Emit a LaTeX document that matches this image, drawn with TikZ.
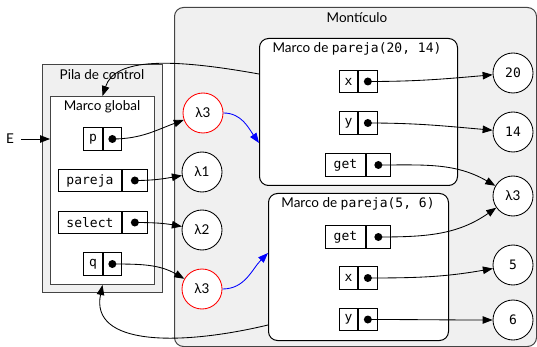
\documentclass[tikz,border=0pt]{standalone}
\usepackage{fontspec}
\setmainfont{Lato}
\newfontfamily\monof{DejaVu Sans Mono}
\usetikzlibrary{arrows.meta}
\definecolor{bgfill}{HTML}{F0F0F0}
\definecolor{framec}{HTML}{444444}
\tikzset{
  arr/.style={-{Triangle[length=10pt,width=7.5pt]}, line width=0.85pt},
  barr/.style={arr, blue},
  lbl/.style={font=\fontsize{13.5}{16}\selectfont, inner sep=0},
  cellL/.style={draw, line width=0.9pt, minimum height=22.5pt, inner sep=0, font=\monof\fontsize{13}{15}\selectfont},
  cellD/.style={draw, line width=0.9pt, minimum height=22.5pt, inner sep=0},
  val/.style={draw, circle, minimum size=40pt, inner sep=0, line width=0.85pt, fill=white, font=\monof\fontsize{13}{15}\selectfont},
  lam/.style={draw, circle, minimum size=40pt, inner sep=0, line width=0.85pt, fill=white, font=\fontsize{13.5}{16}\selectfont},
  redlam/.style={lam, draw=red},
  pt/.style={circle, fill=black, inner sep=0, minimum size=8pt},
  panel/.style={draw=framec, line width=1pt},
}
\newcommand{\mkcell}[6]{% name, label, xL, wL, wD, y
  \node[cellL, minimum width=#4 pt, anchor=west] (#1L) at (#3,#6) {#2};
  \node[cellD, minimum width=#5 pt, anchor=west] (#1D) at (#1L.east) {};
  \node[pt] (#1) at (#1D.center) {};
}
\begin{document}
\begin{tikzpicture}[x=1pt,y=-1pt]
\useasboundingbox (0,0) rectangle (537,347);
% Monticulo
\node[panel, draw=framec, fill=bgfill, rounded corners=9pt, minimum width=362pt, minimum height=339pt, anchor=north west, inner sep=0] (heap) at (174,7) {};
\node[lbl] (heapT) at (357,18) {Montículo};
% Pila de control
\node[panel, fill=bgfill, minimum width=120pt, minimum height=228pt, anchor=north west, inner sep=0] (stack) at (42,64) {};
\node[lbl] (stackT) at (102,75) {Pila de control};
\node[panel, fill=white, minimum width=104pt, minimum height=188pt, anchor=north west, inner sep=0] (glob) at (50,96) {};
\node[lbl] (globT) at (102,107) {Marco global};
% global cells
\mkcell{gp}{p}{83}{19}{18}{139}
\mkcell{gpar}{pareja}{58}{63}{25}{180.5}
\mkcell{gsel}{select}{58}{63}{25}{222.5}
\mkcell{gq}{q}{83}{19}{18}{264}
% E
\node[lbl] (E) at (10,139) {E};
\coordinate (Ein) at (50,139);
\draw[arr] (E.east)++(7,0) coordinate (Es) (Es) -- (Ein);
% lambdas
\node[redlam] (l3a) at (203,113) {λ3};
\node[lam] (l1) at (202,172) {λ1};
\node[lam] (l2) at (202,230) {λ2};
\node[redlam] (l3b) at (202,289) {λ3};
% frame pareja(20,14)
\node[panel, draw=black, fill=white, rounded corners=9pt, minimum width=198pt, minimum height=147pt, anchor=north west, inner sep=0] (f1) at (259,38) {};
\node[lbl] (f1T) at (357,49) {Marco de {\monof\fontsize{13}{15}\selectfont pareja(20, 14)}};
\mkcell{fx}{x}{339}{18}{19}{81.5}
\mkcell{fy}{y}{339}{18}{19}{123}
\mkcell{fg}{get}{325}{40}{24}{165}
% frame pareja(5,6)
\node[panel, draw=black, fill=white, rounded corners=9pt, minimum width=180pt, minimum height=147pt, anchor=north west, inner sep=0] (f2) at (268,193) {};
\node[lbl] (f2T) at (358,204) {Marco de {\monof\fontsize{13}{15}\selectfont pareja(5, 6)}};
\mkcell{hg}{get}{325}{40}{24}{237}
\mkcell{hx}{x}{339}{18}{19}{278}
\mkcell{hy}{y}{339}{18}{19}{319.5}
% values
\node[val] (v20) at (513,73) {20};
\node[val] (v14) at (513,132) {14};
\node[lam] (l3c) at (513,196) {λ3};
\node[val] (v5) at (513,265) {5};
\node[val] (v6) at (513,320) {6};
% pointers global
\draw[arr] (gp.center) to[out=0,in=200] (l3a);
\draw[arr] (gpar.center) to[out=0,in=190] (l1);
\draw[arr] (gsel.center) to[out=0,in=170] (l2);
\draw[arr] (gq.center) to[out=0,in=150] (l3b);
% closures to frames
\draw[barr] (l3a.east) to[out=0,in=125] (f1.west |- 0,143);
\draw[barr] (l3b.east) to[out=0,in=225] (f2.west |- 0,253);
% parent pointers
\coordinate (f1p) at (259,74);
\coordinate (f2p) at (268,325);
\draw[arr] (f1p) .. controls (170,58) and (115,58) .. (glob.north);
\draw[arr] (f2p) .. controls (180,346) and (90,346) .. (glob.south);
% frame values
\draw[arr] (fx.center) to[out=0,in=185] (v20);
\draw[arr] (fy.center) to[out=0,in=175] (v14);
\draw[arr] (fg.center) to[out=0,in=150] (l3c);
\draw[arr] (hg.center) to[out=0,in=215] (l3c);
\draw[arr] (hx.center) to[out=0,in=190] (v5);
\draw[arr] (hy.center) to[out=0,in=180] (v6);
\end{tikzpicture}
\end{document}
